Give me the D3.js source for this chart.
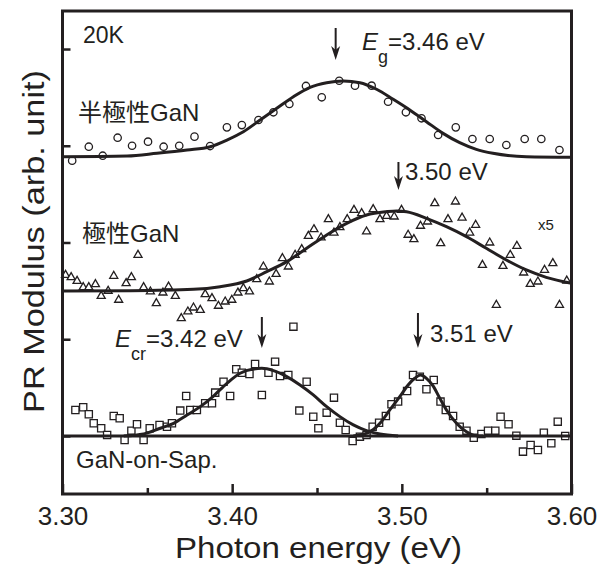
<!DOCTYPE html>
<html>
<head>
<meta charset="utf-8">
<script src="https://cdn.jsdelivr.net/npm/d3@7"></script>
<style>
  html, body { margin: 0; padding: 0; background: #fff; }
  svg { display: block; }
  text { font-family: "Liberation Sans", Arial, "Noto Sans CJK JP", sans-serif; fill: #231f20; }
</style>
</head>
<body>
<script>
// ---------- data ----------
const xTickMajor = [3.30, 3.40, 3.50, 3.60];
const xTickMinor = [3.35, 3.45, 3.55];
const xTickLabels = ["3.30", "3.40", "3.50", "3.60"];
const yTicks = [0, 1, 2, 3, 4];

// semi-polar GaN (circles)
const semiE = [3.3057,3.3155,3.3237,3.3325,3.3410,3.3504,3.3596,3.3688,3.3778,3.3870,3.3969,3.4057,3.4155,3.4243,3.4337,3.4435,3.4528,3.4631,3.4724,3.4822,3.4919,3.5024,3.5116,3.5214,3.5318,3.5416,3.5518,3.5616,3.5724,3.5822,3.5929];
const semiPR = [2.846,2.990,2.897,3.083,3.000,3.042,2.990,3.000,3.094,2.997,3.190,3.214,3.266,3.346,3.432,3.618,3.501,3.672,3.621,3.621,3.455,3.346,3.284,3.111,3.190,3.070,3.070,3.008,3.070,3.070,2.956];
const semiFitE = [3.30,3.3381,3.3557,3.3734,3.3871,3.3969,3.4066,3.4165,3.4263,3.4361,3.4459,3.4557,3.4655,3.4753,3.4851,3.4949,3.5047,3.5145,3.5243,3.5341,3.5439,3.5537,3.5734,3.60];
const semiFitPR = [2.887,2.894,2.922,2.956,2.990,3.059,3.145,3.266,3.387,3.507,3.604,3.652,3.669,3.652,3.584,3.480,3.370,3.249,3.128,3.032,2.963,2.922,2.887,2.881];

// polar GaN (triangles, x5)
const polarE = [3.3018,3.3051,3.3086,3.3122,3.3155,3.3194,3.3228,3.3269,3.3302,3.3331,3.3375,3.3406,3.3445,3.3478,3.3518,3.3553,3.3592,3.3625,3.3665,3.3700,3.3739,3.3772,3.3812,3.3841,3.3881,3.3919,3.3959,3.3998,3.4034,3.4066,3.4102,3.4145,3.4184,3.4219,3.4259,3.4296,3.4331,3.4371,3.4410,3.4449,3.4482,3.4524,3.4567,3.4600,3.4635,3.4678,3.4718,3.4763,3.4792,3.4831,3.4871,3.4910,3.4955,3.4998,3.5037,3.5071,3.5110,3.5151,3.5194,3.5229,3.5272,3.5316,3.5355,3.5400,3.5435,3.5475,3.5518,3.5557,3.5596,3.5639,3.5678,3.5718,3.5757,3.5802,3.5841,3.5890,3.5929,3.5972];
const polarPR = [1.664,1.640,1.602,1.537,1.537,1.568,1.447,1.499,1.654,1.406,1.578,1.640,1.871,1.537,1.492,1.372,1.481,1.543,1.447,1.217,1.285,1.326,1.302,1.465,1.423,1.344,1.388,1.406,1.481,1.527,1.492,1.620,1.750,1.595,1.674,1.837,1.750,1.871,1.930,2.067,2.136,2.050,2.240,2.101,2.157,2.240,2.336,2.302,2.112,2.343,2.240,2.274,2.267,2.336,2.078,2.033,2.171,2.215,2.405,1.992,2.240,2.422,2.256,2.101,2.181,1.767,1.998,1.354,1.757,1.871,1.964,1.688,1.571,1.595,1.716,1.785,1.354,1.605];
const polarFitE = [3.30,3.34,3.3772,3.3929,3.4086,3.4204,3.4322,3.4439,3.4557,3.4675,3.4792,3.4910,3.4970,3.5028,3.5145,3.5263,3.5381,3.5498,3.5616,3.5734,3.5851,3.60];
const polarFitPR = [1.499,1.502,1.516,1.543,1.602,1.698,1.802,1.940,2.078,2.198,2.284,2.318,2.326,2.318,2.250,2.163,2.060,1.940,1.819,1.716,1.640,1.578];

// GaN-on-sapphire (squares)
const sapE = [3.3076,3.3122,3.3155,3.3184,3.3228,3.3263,3.3302,3.3337,3.3366,3.3406,3.3439,3.3478,3.3514,3.3572,3.3616,3.3645,3.3694,3.3729,3.3753,3.3792,3.3841,3.3881,3.3900,3.3949,3.3988,3.4024,3.4057,3.4102,3.4135,3.4175,3.4214,3.4253,3.4282,3.4331,3.4361,3.4439,3.4396,3.4478,3.4508,3.4557,3.4600,3.4635,3.4669,3.4710,3.4753,3.4792,3.4828,3.4866,3.4906,3.4939,3.4978,3.5031,3.5066,3.5106,3.5145,3.5188,3.5228,3.5259,3.5302,3.5341,3.5381,3.5424,3.5469,3.5508,3.5551,3.5582,3.5629,3.5675,3.5714,3.5759,3.5802,3.5837,3.5881,3.5919,3.5963];
const sapPR = [0.269,0.297,0.224,0.131,0.080,0.010,0.207,0.183,-0.041,0.055,0.121,-0.041,0.080,0.114,0.096,0.131,0.262,0.413,0.269,0.269,0.338,0.338,0.448,0.561,0.413,0.689,0.654,0.641,0.744,0.424,0.654,0.768,0.620,0.630,1.130,0.561,0.262,0.199,0.080,0.241,0.396,0.137,0.062,-0.052,-0.007,0.010,0.096,0.137,0.207,0.328,0.355,0.465,0.630,0.613,0.483,0.579,0.355,0.269,0.207,0.096,0.055,-0.018,0.021,0.055,0.055,0.199,0.121,0.003,-0.162,-0.093,-0.145,0.034,-0.075,0.148,0.000];
const sapFit1E = [3.3361,3.3478,3.3576,3.3655,3.3734,3.3812,3.3890,3.3969,3.4047,3.4125,3.4175,3.4243,3.4322,3.4400,3.4478,3.4557,3.4635,3.4714,3.4792,3.4871,3.4978];
const sapFit1PR = [0,0.021,0.080,0.131,0.217,0.303,0.413,0.544,0.648,0.692,0.699,0.675,0.613,0.527,0.424,0.303,0.200,0.114,0.055,0.021,0];
const sapFit2E = [3.4714,3.4802,3.4871,3.4929,3.4988,3.5037,3.5076,3.5110,3.5145,3.5184,3.5224,3.5263,3.5322,3.5381,3.5440,3.5478];
const sapFit2PR = [0,0.034,0.131,0.269,0.406,0.527,0.596,0.630,0.596,0.517,0.389,0.269,0.131,0.044,0.003,0];
const sapBaseE = [3.30, 3.60];
const sapBasePR = [0, 0];

// peak markers
const peakE = [3.461, 3.498, 3.4175, 3.5095];

// ---------- layout ----------
const W = 600, H = 567;
const ink = "#231f20";
const mLeft = 62.5, mRight = 571.5, mTop = 11, mBottom = 494;

const svg = d3.select("body").append("svg").attr("width", W).attr("height", H);

const x = d3.scaleLinear().domain([3.30, 3.60]).range([mLeft, mRight]);
const y = d3.scaleLinear().domain([-0.6, 4.393]).range([mBottom, mTop]);

const zip = (a, b) => a.map((v, i) => [v, b[i]]);

// axes
const gx = svg.append("g").attr("transform", `translate(0,${mBottom})`)
  .call(d3.axisBottom(x).tickValues(xTickMajor).tickSize(-10).tickPadding(13)
    .tickFormat((d, i) => xTickLabels[i]));
gx.select(".domain").remove();
gx.selectAll("line").attr("stroke", ink).attr("stroke-width", 2.5);
gx.selectAll("text").attr("font-size", 26).attr("fill", ink)
  .attr("font-family", "Liberation Sans, Arial, sans-serif");

const gxm = svg.append("g").attr("transform", `translate(0,${mBottom})`)
  .call(d3.axisBottom(x).tickValues(xTickMinor).tickSize(-6).tickFormat(""));
gxm.select(".domain").remove();
gxm.selectAll("line").attr("stroke", ink).attr("stroke-width", 2.5);

const gy = svg.append("g").attr("transform", `translate(${mLeft},0)`)
  .call(d3.axisLeft(y).tickValues(yTicks).tickSize(-8).tickFormat(""));
gy.select(".domain").remove();
gy.selectAll("line").attr("stroke", ink).attr("stroke-width", 2.5);

// markers
const mk = svg.append("g").attr("fill", "#fff").attr("stroke", ink).attr("stroke-width", 1.3);
mk.selectAll("circle.semi").data(zip(semiE, semiPR)).join("circle")
  .attr("class", "semi").attr("cx", d => x(d[0])).attr("cy", d => y(d[1])).attr("r", 3.7);
const tri = d3.symbol().type(d3.symbolTriangle).size(28);
mk.selectAll("path.polar").data(zip(polarE, polarPR)).join("path")
  .attr("class", "polar").attr("d", tri)
  .attr("transform", d => `translate(${x(d[0])},${y(d[1])})`);
const sq = d3.symbol().type(d3.symbolSquare).size(52);
mk.selectAll("path.sap").data(zip(sapE, sapPR)).join("path")
  .attr("class", "sap").attr("d", sq)
  .attr("transform", d => `translate(${x(d[0])},${y(d[1])})`);

// fitted curves
const line = d3.line().x(d => x(d[0])).y(d => y(d[1])).curve(d3.curveMonotoneX);
const curves = [
  zip(semiFitE, semiFitPR),
  zip(polarFitE, polarFitPR),
  zip(sapBaseE, sapBasePR),
  zip(sapFit1E, sapFit1PR),
  zip(sapFit2E, sapFit2PR)
];
svg.append("g").selectAll("path").data(curves).join("path")
  .attr("d", line).attr("fill", "none").attr("stroke", ink)
  .attr("stroke-width", 3).attr("stroke-linejoin", "round");

// frame
svg.append("rect").attr("x", mLeft).attr("y", mTop)
  .attr("width", mRight - mLeft).attr("height", mBottom - mTop)
  .attr("fill", "none").attr("stroke", ink).attr("stroke-width", 3);

// arrows
const arrowY = [[28, 60], [162, 190], [317, 348], [313, 348]];
peakE.forEach((e, i) => {
  const ax = x(e), y1 = arrowY[i][0], y2 = arrowY[i][1];
  svg.append("line").attr("x1", ax).attr("x2", ax).attr("y1", y1).attr("y2", y2 - 8)
    .attr("stroke", ink).attr("stroke-width", 2);
  svg.append("path")
    .attr("d", `M${ax - 4.5},${y2 - 14} L${ax},${y2} L${ax + 4.5},${y2 - 14} L${ax},${y2 - 10} Z`)
    .attr("fill", ink);
});

// texts
function txt(xp, yp, s, size) {
  return svg.append("text").attr("x", xp).attr("y", yp).attr("font-size", size).text(s);
}
txt(83, 43, "20K", 23);
txt(78, 121, "半極性GaN", 24);
txt(82, 242, "極性GaN", 24);
txt(76, 468, "GaN-on-Sap.", 24);
txt(538, 230, "x5", 15);
txt(405, 180, "3.50 eV", 24);
txt(430, 342, "3.51 eV", 24);

const eg = svg.append("text").attr("x", 362).attr("y", 50).attr("font-size", 24);
eg.append("tspan").attr("font-style", "italic").text("E");
eg.append("tspan").attr("font-size", 18).attr("dy", 13).text("g");
eg.append("tspan").attr("dy", -13).text("=3.46 eV");

const ecr = svg.append("text").attr("x", 115).attr("y", 347).attr("font-size", 24);
ecr.append("tspan").attr("font-style", "italic").text("E");
ecr.append("tspan").attr("font-size", 18).attr("dy", 13).text("cr");
ecr.append("tspan").attr("dy", -13).text("=3.42 eV");

// axis titles (stretched horizontally to the reference's text extent)
const xt = svg.append("text").attr("text-anchor", "middle").attr("font-size", 30)
  .text("Photon energy (eV)");
const xtL = xt.node().getComputedTextLength();
xt.attr("transform", `translate(318.5,558) scale(${287 / xtL},1)`);

const yt = svg.append("text").attr("text-anchor", "middle").attr("font-size", 29)
  .text("PR Modulus (arb. unit)");
const ytL = yt.node().getComputedTextLength();
yt.attr("transform", `translate(44,241.5) rotate(-90) scale(${343 / ytL},1)`);
</script>
</body>
</html>
